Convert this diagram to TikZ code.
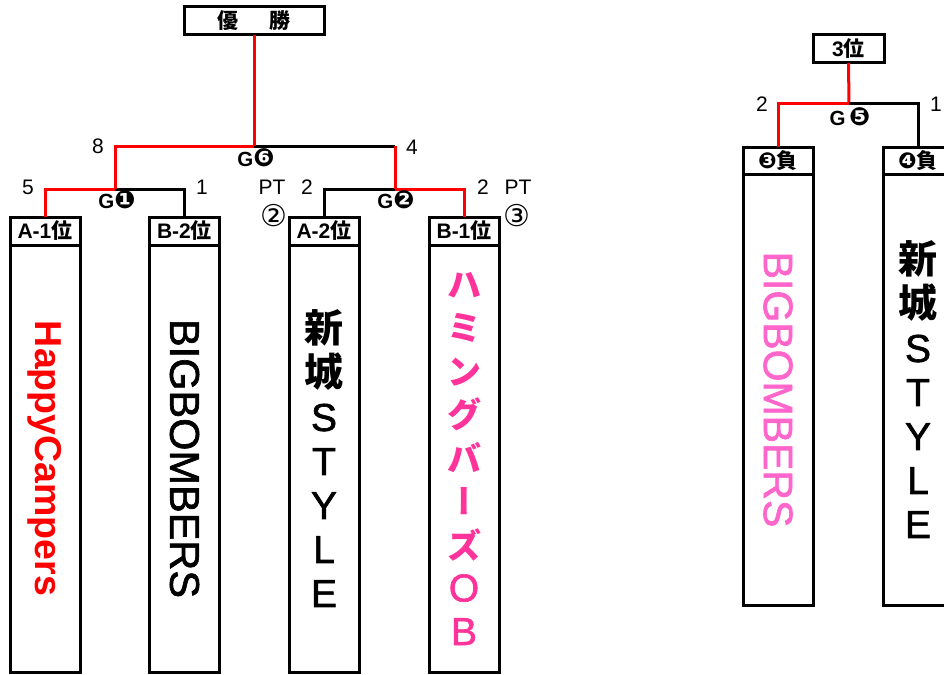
\documentclass[tikz,border=0pt]{standalone}
\usepackage{fontspec}
\setmainfont{Liberation Sans}
\newfontfamily\medsans[FakeBold=1.6]{Liberation Sans}
\newfontfamily\jp{Noto Sans CJK JP}
\newfontfamily\jpv[RawFeature=+vert]{Noto Sans CJK JP}
\newfontfamily\dv{DejaVu Sans}
\usetikzlibrary{positioning}

\definecolor{hotpink}{HTML}{FF3399}
\definecolor{softpink}{HTML}{FF66CC}

% black circled game numbers
\newcommand\gnum[1]{{\dv\fontsize{25}{25}\selectfont #1}}

\tikzset{
  hdr/.style={draw, line width=3pt, minimum width=70pt, minimum height=28pt,
    inner sep=0pt, outer sep=0pt, font=\bfseries\fontsize{21}{22}\selectfont},
  body/.style={draw, line width=3pt, minimum width=70pt, inner sep=0pt, outer sep=0pt},
  win/.style={red, line width=3pt},
  lose/.style={black, line width=3pt},
  score/.style={font=\fontsize{21}{22}\selectfont},
  circ/.style={font=\dv\fontsize{30}{30}\selectfont},
  game/.style={font=\bfseries\fontsize{20.5}{21}\selectfont},
  vname/.style={align=center, font=\medsans\fontsize{39}{44}\selectfont},
}

\begin{document}
\begin{tikzpicture}[x=1pt, y=-1pt]
    \useasboundingbox (0,0) rectangle (944,674);
    \clip (0,0) rectangle (944,674);

    % Final box
    \node[hdr, minimum width=140pt] (champ) at (254,21) {{\jp 優}\hspace{1.5em}{\jp 勝}};

    % Group teams (header + name column)
    \node[hdr] (a1) at (45,231) {A-1{\jp 位}};
    \node[body, minimum height=427pt, below=0pt of a1] (a1b) {};
    \node[hdr] (b2) at (184.5,231) {B-2{\jp 位}};
    \node[body, minimum height=427pt, below=0pt of b2] (b2b) {};
    \node[hdr] (a2) at (324,231) {A-2{\jp 位}};
    \node[body, minimum height=427pt, below=0pt of a2] (a2b) {};
    \node[hdr] (b1) at (464,231) {B-1{\jp 位}};
    \node[body, minimum height=427pt, below=0pt of b1] (b1b) {};

    % Team names
    \node[rotate=-90, red, font=\bfseries\fontsize{37.5}{40}\selectfont] (n1) at (a1b) {HappyCampers};
    \node[rotate=-90, font=\medsans\fontsize{41.5}{44}\selectfont] (n2) at (b2b) {BIGBOMBERS};
    \node[vname] (n3) at (a2b)
        {{\jp\bfseries 新}\\{\jp\bfseries 城}\\S\\T\\Y\\L\\E};
    \node[vname, hotpink, font=\jp\bfseries\fontsize{34}{43.5}\selectfont] (n4) at (b1b)
        {ハ\\ミ\\ン\\グ\\バ\\{\jpv\bfseries ー}\\ズ\\{\medsans\mdseries\fontsize{39}{43.5}\selectfont O}\\{\medsans\mdseries\fontsize{39}{43.5}\selectfont B}};

    % Bracket joints
    \coordinate (g6) at (254,146);
    \coordinate (g1) at (115,189);
    \coordinate (g2) at (395,189);

    \draw[win] (a1.north) |- (g1);
    \draw[lose] (b2.north) |- (g1);
    \draw[lose] (a2.north) |- (g2);
    \draw[win] (b1.north) |- (g2);
    \draw[win] (g1) |- (g6);
    \draw[lose] (g6) -- (g6 -| g2);
    \draw[win] (g6 -| g2) -- (g2);
    \draw[win] (g6) -- (champ.south);

    % Scores and game labels
    \node[score] (s8) at (98,146) {8};
    \node[score] (s4) at (412,147) {4};
    \node[score] (s5) at (28,187) {5};
    \node[score] (s1) at (202,187) {1};
    \node[score] (pt1) at (272,187) {PT};
    \node[score] (s2a) at (307,187) {2};
    \node[score] (s2b) at (483,187) {2};
    \node[score] (pt2) at (518,187) {PT};
    \node[circ] (c2) at (274,216) {②};
    \node[circ] (c3) at (517,216) {③};
    \node[game] (gl6) at (256,158) {G\gnum{❻}};
    \node[game] (gl1) at (117,200) {G\gnum{❶}};
    \node[game] (gl2) at (396,200) {G\gnum{❷}};

    % Third place match
    \node[hdr, minimum width=71pt] (third) at (848.5,49) {3{\jp 位}};
    \node[hdr, minimum height=27pt] (l3) at (778,160.5) {{\dv\fontsize{22}{22}\selectfont ❸}{\jp 負}};
    \node[body, minimum height=431pt, below=0pt of l3] (l3b) {};
    \node[hdr, minimum height=27pt] (l4) at (918,160.5) {{\dv\fontsize{22}{22}\selectfont ❹}{\jp 負}};
    \node[body, minimum height=431pt, below=0pt of l4] (l4b) {};

    \node[rotate=-90, softpink, font=\medsans\fontsize{41}{44}\selectfont] (n5) at (l3b) {BIGBOMBERS};
    \node[vname] (n6) at (l4b)
        {{\jp\bfseries 新}\\{\jp\bfseries 城}\\S\\T\\Y\\L\\E};

    \coordinate (g5) at (849,104);
    \draw[win] (third.south) -- (g5);
    \draw[win] (l3.north) |- (g5);
    \draw[lose] (l4.north) |- (g5);

    \node[score] (s2c) at (762,104) {2};
    \node[score] (s1c) at (936,104) {1};
    \node[game] (gl5) at (850,117) {G\,\gnum{❺}};
\end{tikzpicture}
\end{document}
